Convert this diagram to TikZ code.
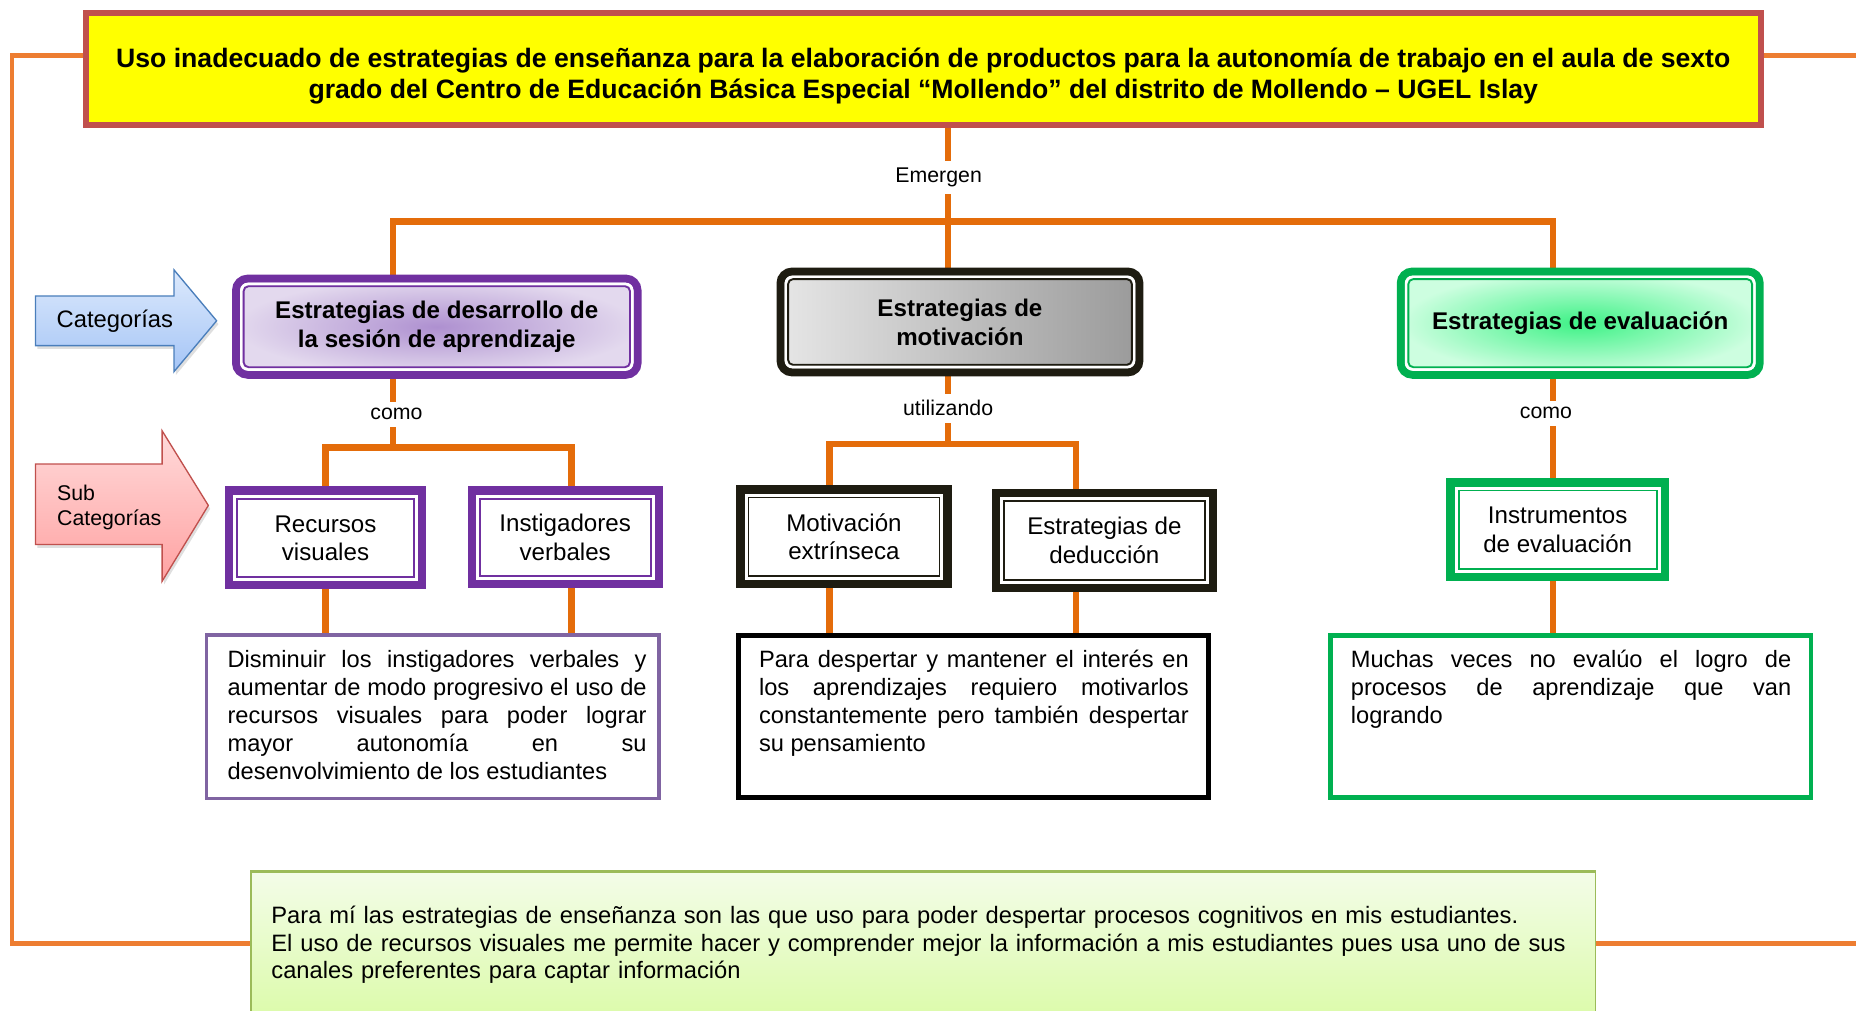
\documentclass[tikz,border=0pt]{standalone}
\usepackage{fontspec}
\setmainfont{Liberation Sans}
\usetikzlibrary{positioning,backgrounds,shadows}
\definecolor{ctitlefill}{HTML}{FFFF00}
\definecolor{ctitleborder}{HTML}{C0504D}
\definecolor{cframe}{HTML}{ED7D31}
\definecolor{clink}{HTML}{E46C0A}
\definecolor{cpurple}{HTML}{7030A0}
\definecolor{cpurplebg}{HTML}{E3D9EE}
\definecolor{cpurplemid}{HTML}{AE90D0}
\definecolor{cdark}{HTML}{1E1C11}
\definecolor{cgrayleft}{HTML}{E6E6E6}
\definecolor{cgrayright}{HTML}{9A9A9A}
\definecolor{cgreen}{HTML}{00B050}
\definecolor{cgreenbg}{HTML}{CDFEE0}
\definecolor{cgreenmid}{HTML}{3EF286}
\definecolor{cdesc}{HTML}{8064A2}
\definecolor{cnoteborder}{HTML}{9BBB59}
\definecolor{cnotetop}{HTML}{F3FCE8}
\definecolor{cnotebottom}{HTML}{DBFBA8}
\definecolor{cbluetop}{HTML}{DCE9FC}
\definecolor{cbluebottom}{HTML}{A5C5F6}
\definecolor{cblueline}{HTML}{4A7EBB}
\definecolor{cpinktop}{HTML}{FFDADA}
\definecolor{cpinkbottom}{HTML}{FFA2A2}
\definecolor{cpinkline}{HTML}{C0504D}
\tolerance=9999

\begin{document}
\begin{tikzpicture}[
    link/.style={line width=4pt,clink},
    frameline/.style={line width=2.8pt,cframe},
    linklabel/.style={fill=white,inner xsep=2pt,inner ysep=4pt,
        font=\fontsize{12.8}{15}\selectfont},
    catbox/.style={rounded corners=7pt,line width=4.8pt,align=center,
        font=\bfseries\fontsize{14.5}{17.5}\selectfont},
    subbox/.style={line width=5pt,fill=white,align=center,
        font=\fontsize{14.5}{17}\selectfont},
    descbox/.style={fill=white},
    desctext/.style={anchor=base west,inner sep=0pt,align=justify,
        font=\fontsize{14.2}{16.8}\selectfont},
    arrowtext/.style={font=\fontsize{14.3}{17}\selectfont},
]
\useasboundingbox (0,0) rectangle (39.2,-21.35);

% ============================================================
% TITLE
% ============================================================
\node[draw=ctitleborder, fill=ctitlefill, line width=3.6pt,
    minimum width=35.37cm, minimum height=2.37cm, align=center,
    font=\bfseries\fontsize{16}{18.5}\selectfont] (title) at (19.5,-1.45) {
    \rule{0pt}{20.5pt}Uso inadecuado de estrategias de enseñanza para la elaboración de productos para la autonomía de trabajo en el aula de sexto\\
    grado del Centro de Educación Básica Especial “Mollendo” del distrito de Mollendo – UGEL Islay
};

% ============================================================
% CATEGORIES
% ============================================================
\node[catbox, draw=cpurple, inner color=cpurplemid, outer color=cpurplebg,
    minimum width=8.48cm, minimum height=2.03cm] (catdes) at (9.225,-6.9)
    {Estrategias de desarrollo de\\la sesión de aprendizaje};
\node[catbox, draw=cdark, left color=cgrayleft, right color=cgrayright,
    minimum width=7.58cm, minimum height=2.13cm] (catmot) at (20.275,-6.8)
    {Estrategias de\\motivación};
\node[catbox, draw=cgreen, inner color=cgreenmid, outer color=cgreenbg,
    minimum width=7.58cm, minimum height=2.18cm] (cateva) at (33.375,-6.825)
    {Estrategias de evaluación};

% double frame inside (anchors sit on the outer edge of the border)
\foreach \n/\c in {catdes/cpurple,catmot/cdark,cateva/cgreen} {
    \draw[white,line width=1.6pt,rounded corners=4pt]
        ([shift={(5.6pt,-5.6pt)}]\n.north west) rectangle ([shift={(-5.6pt,5.6pt)}]\n.south east);
    \draw[\c,line width=1.1pt,rounded corners=3pt]
        ([shift={(6.95pt,-6.95pt)}]\n.north west) rectangle ([shift={(-6.95pt,6.95pt)}]\n.south east);
}

% ============================================================
% SUB CATEGORIES
% ============================================================
\node[subbox, draw=cpurple, minimum width=4.07cm, minimum height=2cm]
    (subrec) at (6.875,-11.3625) {Recursos\\visuales};
\node[subbox, draw=cpurple, minimum width=3.95cm, minimum height=1.975cm]
    (subins) at (11.9375,-11.35) {Instigadores\\verbales};
\node[subbox, draw=cdark, minimum width=4.375cm, minimum height=2cm]
    (submot) at (17.825,-11.3375) {Motivación\\extrínseca};
\node[subbox, draw=cdark, minimum width=4.575cm, minimum height=2cm]
    (subded) at (23.325,-11.4125) {Estrategias de\\deducción};
\node[subbox, draw=cgreen, minimum width=4.525cm, minimum height=2cm]
    (subinst) at (32.9,-11.1875) {Instrumentos\\de evaluación};

\foreach \n/\c in {subrec/cpurple,subins/cpurple,submot/cdark,subded/cdark,subinst/cgreen} {
    \draw[\c,line width=1.1pt]
        ([shift={(7.35pt,-7.35pt)}]\n.north west) rectangle ([shift={(-7.35pt,7.35pt)}]\n.south east);
}

% ============================================================
% DESCRIPTIONS
% ============================================================
\node[descbox, draw=cdesc, line width=2.2pt, minimum width=9.55cm,
    minimum height=3.45cm] (descdes) at (9.1375,-15.1375) {};
\node[desctext, text width=8.85cm] (txtdes) at (4.8,-14.1) {
    Disminuir los instigadores verbales y\linebreak
    aumentar de modo progresivo el uso de\linebreak
    recursos visuales para poder lograr\linebreak
    mayor autonomía en su\linebreak
    desenvolvimiento de los estudiantes};

\node[descbox, draw=black, line width=3pt, minimum width=9.92cm,
    minimum height=3.42cm] (descmot) at (20.5625,-15.1375) {};
\node[desctext, text width=9.075cm] (txtmot) at (16.025,-14.1) {
    Para despertar y mantener el interés en\linebreak
    los aprendizajes requiero motivarlos\linebreak
    constantemente pero también despertar\linebreak
    su pensamiento};

\node[descbox, draw=cgreen, line width=2.8pt, minimum width=10.15cm,
    minimum height=3.425cm] (desceva) at (33.175,-15.1375) {};
\node[desctext, text width=9.3cm] (txteva) at (28.525,-14.1) {
    Muchas veces no evalúo el logro de\linebreak
    procesos de aprendizaje que van\linebreak
    logrando};

% ============================================================
% NOTE
% ============================================================
\node[top color=cnotetop, bottom color=cnotebottom, draw=cnoteborder,
    line width=1pt, minimum width=28.4cm, minimum height=3.175cm]
    (note) at (19.5,-20.0125) {};
\draw[cnoteborder,line width=2pt] (note.north west) -- (note.north east);
\node[anchor=base west, inner sep=0pt, text width=28cm, align=left,
    font=\fontsize{14.25}{16.7}\selectfont] (notetxt) at (5.725,-19.5) {
    Para mí las estrategias de enseñanza son las que uso para poder despertar procesos cognitivos en mis estudiantes.\\
    El uso de recursos visuales me permite hacer y comprender mejor la información a mis estudiantes pues usa uno de sus\\
    canales preferentes para captar información};

% ============================================================
% SIDE ARROWS
% ============================================================
\draw[top color=cbluetop, bottom color=cbluebottom, draw=cblueline, line width=0.8pt,
    drop shadow={opacity=0.25,shadow xshift=0.04cm,shadow yshift=-0.07cm}]
    (0.75,-6.25) -- (3.675,-6.25) -- (3.675,-5.7) -- (4.575,-6.775)
    -- (3.675,-7.85) -- (3.675,-7.3) -- (0.75,-7.3) -- cycle;
\node[arrowtext] (lblcat) at (2.425,-6.775) {Categorías};

\draw[top color=cpinktop, bottom color=cpinkbottom, draw=cpinkline, line width=0.8pt,
    drop shadow={opacity=0.25,shadow xshift=0.04cm,shadow yshift=-0.07cm}]
    (0.75,-9.8) -- (3.425,-9.8) -- (3.425,-9.1) -- (4.4,-10.675)
    -- (3.425,-12.275) -- (3.425,-11.5) -- (0.75,-11.5) -- cycle;
\node[arrowtext, anchor=west, align=left, inner sep=0pt,
    font=\fontsize{12.8}{15}\selectfont] (lblsub) at (1.2,-10.71) {Sub\\Categorías};

% ============================================================
% CONNECTORS
% ============================================================
\coordinate (lframe) at (0.25,-19.925);
\coordinate (jdes) at (8.3,-4.675);
\coordinate (jmot) at (20.025,-4.675);
\coordinate (jeva) at (32.8,-4.675);
\coordinate (kdesL) at (6.875,-9.45);
\coordinate (kdesR) at (12.075,-9.45);
\coordinate (kmotL) at (17.525,-9.375);
\coordinate (kmotR) at (22.725,-9.375);

\begin{scope}[on background layer]
    \draw[frameline] ([yshift=0.275cm]title.west) -| (lframe) -- (lframe -| note.west);
    \draw[frameline] ([yshift=0.275cm]title.east) -- ++(2,0);
    \draw[frameline] (lframe -| note.east) -- ++(6,0);

    \draw[link] (title.south -| jmot) -- (jmot);
    \draw[link] (jdes |- catdes.north) -- (jdes) -- (jeva) -- (jeva |- cateva.north);
    \draw[link] (jmot) -- (jmot |- catmot.north);

    \draw[link] (catdes.south -| jdes) -- (jdes |- kdesL);
    \draw[link] (kdesL |- subrec.north) -- (kdesL) -- (kdesR) -- (kdesR |- subins.north);
    \draw[link] (kdesL |- subrec.south) -- (kdesL |- descdes.north);
    \draw[link] (kdesR |- subins.south) -- (kdesR |- descdes.north);

    \draw[link] (catmot.south -| jmot) -- (jmot |- kmotL);
    \draw[link] (kmotL |- submot.north) -- (kmotL) -- (kmotR) -- (kmotR |- subded.north);
    \draw[link] (kmotL |- submot.south) -- (kmotL |- descmot.north);
    \draw[link] (kmotR |- subded.south) -- (kmotR |- descmot.north);

    \draw[link] (cateva.south -| jeva) -- (jeva |- subinst.north);
    \draw[link] (jeva |- subinst.south) -- (jeva |- desceva.north);
\end{scope}

\node[linklabel] (lblemerge) at (19.825,-3.75) {Emergen};
\node[linklabel] (lblcomo1) at (8.375,-8.75) {como};
\node[linklabel] (lblusing) at (20.025,-8.625) {utilizando};
\node[linklabel] (lblcomo2) at (32.65,-8.725) {como};

\end{tikzpicture}
\end{document}
